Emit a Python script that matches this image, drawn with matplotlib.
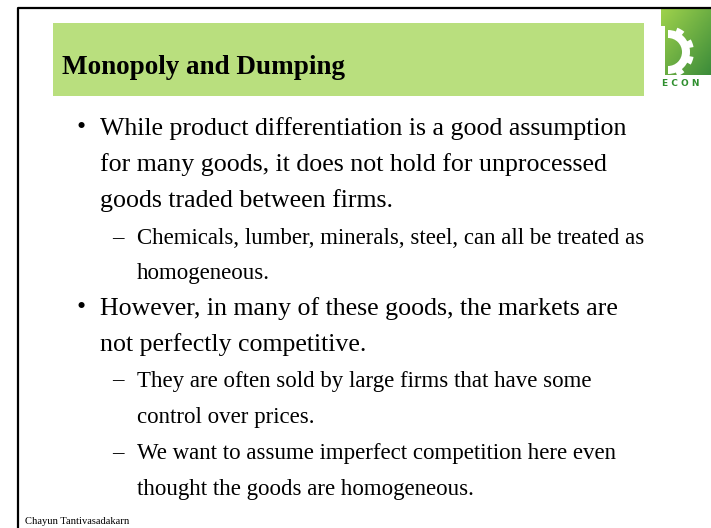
import matplotlib.pyplot as plt
from matplotlib.patches import Rectangle, Wedge
from matplotlib.colors import LinearSegmentedColormap
import numpy as np

TITULO = "Monopoly and Dumping"
AUTOR = "Chayun Tantivasadakarn"

# (nivel, es_inicio_de_item, texto, y)
LINEAS = [
    (1, True,  "While product differentiation is a good assumption", 129),
    (1, False, "for many goods, it does not hold for unprocessed", 165),
    (1, False, "goods traded between firms.", 201),
    (2, True,  "Chemicals, lumber, minerals, steel, can all be treated as", 239),
    (2, False, "homogeneous.", 274),
    (1, True,  "However, in many of these goods, the markets are", 309),
    (1, False, "not perfectly competitive.", 345),
    (2, True,  "They are often sold by large firms that have some", 381),
    (2, False, "control over prices.", 417),
    (2, True,  "We want to assume imperfect competition here even", 454),
    (2, False, "thought the goods are homogeneous.", 490),
]

SERIF = ['Liberation Serif', 'DejaVu Serif']

fig = plt.figure(figsize=(7.11, 5.28), dpi=100)
ax = fig.add_axes([0, 0, 1, 1])

# logo (aproximado): degradado verde, engranaje blanco y ECON
xx, yy = np.meshgrid(np.linspace(0, 1, 60), np.linspace(0, 1, 60))
verde = LinearSegmentedColormap.from_list('verde', ['#9fd24c', '#3c8c3a'])
ax.imshow((xx + yy) / 2, extent=(661, 711, 75, 9), cmap=verde, aspect='auto', zorder=2)
ax.add_patch(Wedge((668, 52), 22, -90, 90, width=8, facecolor='white', edgecolor='none', zorder=3))
for ang in [-60, -20, 20, 60]:
    ax.add_patch(Wedge((668, 52), 26, ang - 9, ang + 9, width=6,
                       facecolor='white', edgecolor='none', zorder=3))
ax.add_patch(Rectangle((661, 26), 4, 50, facecolor='white', edgecolor='none', zorder=3))
ax.text(662, 83, "E C O N", fontsize=6.5, fontweight='bold', color='#2f8f2f', family='DejaVu Sans',
        va='center', ha='left', zorder=3)

ax.set_xlim(0, 711)
ax.set_ylim(528, 0)
ax.axis('off')

# marco del slide
ax.plot([17.5, 17.5, 711], [528, 7.5, 7.5], color='black', lw=1.6, solid_capstyle='butt')

# caja del titulo
ax.add_patch(Rectangle((53, 23), 591, 73, facecolor='#b9df7e', edgecolor='none'))
ax.text(62, 68, TITULO, fontsize=19.5, fontweight='bold', family=SERIF, va='center', ha='left')

for nivel, inicio, texto, y in LINEAS:
    if nivel == 1:
        if inicio:
            ax.text(81, y - 1, "•", fontsize=18.6, family=SERIF, va='center', ha='center')
        ax.text(100, y, texto, fontsize=18.6, family=SERIF, va='center', ha='left')
    else:
        if inicio:
            ax.text(118, y, "–", fontsize=16.5, family=SERIF, va='center', ha='center')
        ax.text(137, y, texto, fontsize=16.5, family=SERIF, va='center', ha='left')

ax.text(25, 521, AUTOR, fontsize=7.6, family=SERIF, va='center', ha='left')

fig.savefig('out.png', dpi=100)
